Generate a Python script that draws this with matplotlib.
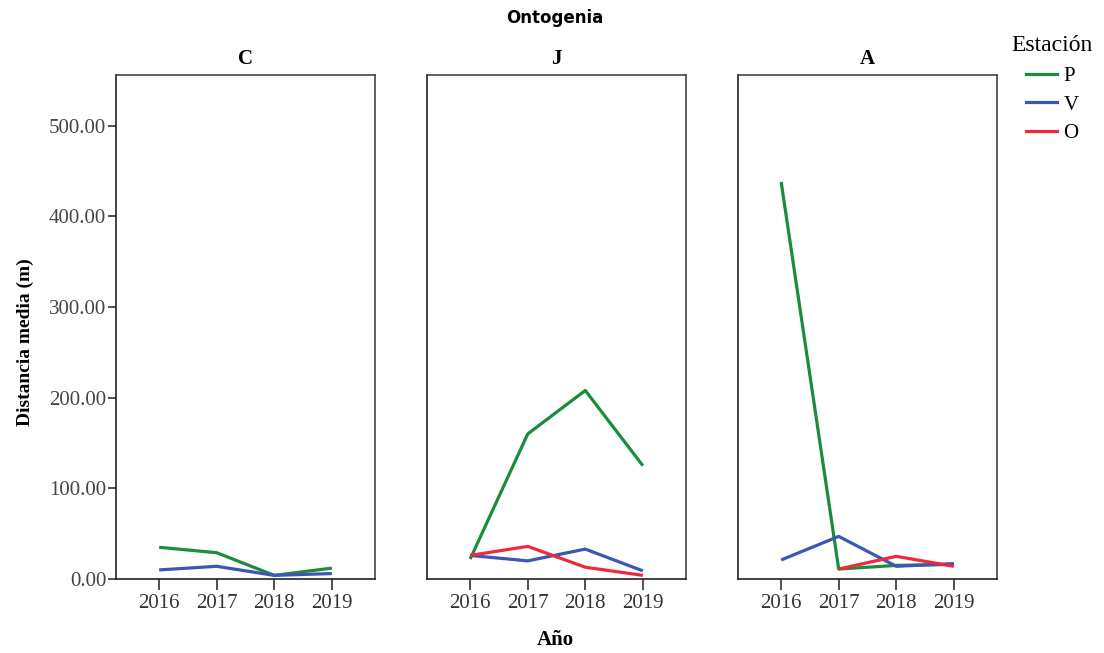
import numpy as np
import matplotlib.pyplot as plt
from matplotlib.lines import Line2D

years = [2016, 2017, 2018, 2019]
panels = ['C', 'J', 'A']
stations = ['P', 'V', 'O']
colors = {'P': '#1a8c3c', 'V': '#3d55b5', 'O': '#f0283c'}

# mean distance (m) per panel / station, None = no data
p_vals = {'C': [35, 29, 4, 12], 'J': [22, 160, 208, 125], 'A': [438, 11, 15, 16]}
v_vals = {'C': [10, 14, 4, 6], 'J': [26, 20, 33, 9], 'A': [21, 47, 14, 17]}
o_vals = {'C': [None, None, None, None], 'J': [26, 36, 13, 4], 'A': [None, 11, 25, 14]}
series = {'P': p_vals, 'V': v_vals, 'O': o_vals}

serif = 'Liberation Serif'
fig = plt.figure(figsize=(11.04, 6.53), dpi=100)

lefts = [116, 427, 738]
W, H = 1104, 653
ax_w = 259 / W
bottom = 1 - 579 / H
height = (579 - 75) / H

axes = []
for i, name in enumerate(panels):
    ax = fig.add_axes([lefts[i] / W, bottom, ax_w, height])
    for st in stations:
        vals = np.array([np.nan if v is None else v for v in series[st][name]], dtype=float)
        ax.plot(years, vals, color=colors[st], lw=2.3, solid_capstyle='butt')
    ax.set_xlim(2015.25, 2019.75)
    ax.set_ylim(0, 556)
    ax.set_xticks(years)
    ax.set_xticklabels([str(y) for y in years], fontfamily=serif, fontsize=15, color='#333333')
    ax.tick_params(axis='x', length=8, width=1.2, color='#333333', pad=3)
    if i == 0:
        ax.set_yticks([0, 100, 200, 300, 400, 500])
        ax.set_yticklabels(['%.2f' % v for v in [0, 100, 200, 300, 400, 500]],
                           fontfamily=serif, fontsize=15, color='#444444')
        ax.tick_params(axis='y', length=6, width=1.2, color='#333333', pad=1)
    else:
        ax.set_yticks([])
    for s in ax.spines.values():
        s.set_color('#444444')
        s.set_linewidth(1.2)
    ax.spines['bottom'].set_color('#222222')
    ax.spines['left'].set_color('#222222')
    ax.set_title(name, fontfamily=serif, fontweight='bold', fontsize=15, pad=8)
    axes.append(ax)

axes[0].set_ylabel('Distancia media (m)', fontfamily=serif, fontweight='bold', fontsize=14)
axes[0].yaxis.set_label_coords(-0.315, 0.47)
fig.text(555 / W, 1 - 640 / H, 'Año', fontfamily=serif, fontweight='bold', fontsize=15,
         ha='center', va='center')
fig.text(555 / W, 1 - 18 / H, 'Ontogenia', fontfamily='DejaVu Sans', fontweight='bold',
         fontsize=12, ha='center', va='center')

handles = [Line2D([0], [0], color=colors[s], lw=2.3) for s in stations]
leg = fig.legend(handles, stations, loc='upper left', bbox_to_anchor=(993 / W, 1 - 16 / H),
                 frameon=False, prop={'family': serif, 'size': 15}, title='Estación',
                 handlelength=1.5, handletextpad=0.3, labelspacing=0.42)
leg.get_title().set_fontfamily(serif)
leg.get_title().set_fontsize(17)
leg._legend_box.sep = 8

fig.savefig('out.png', dpi=100)
